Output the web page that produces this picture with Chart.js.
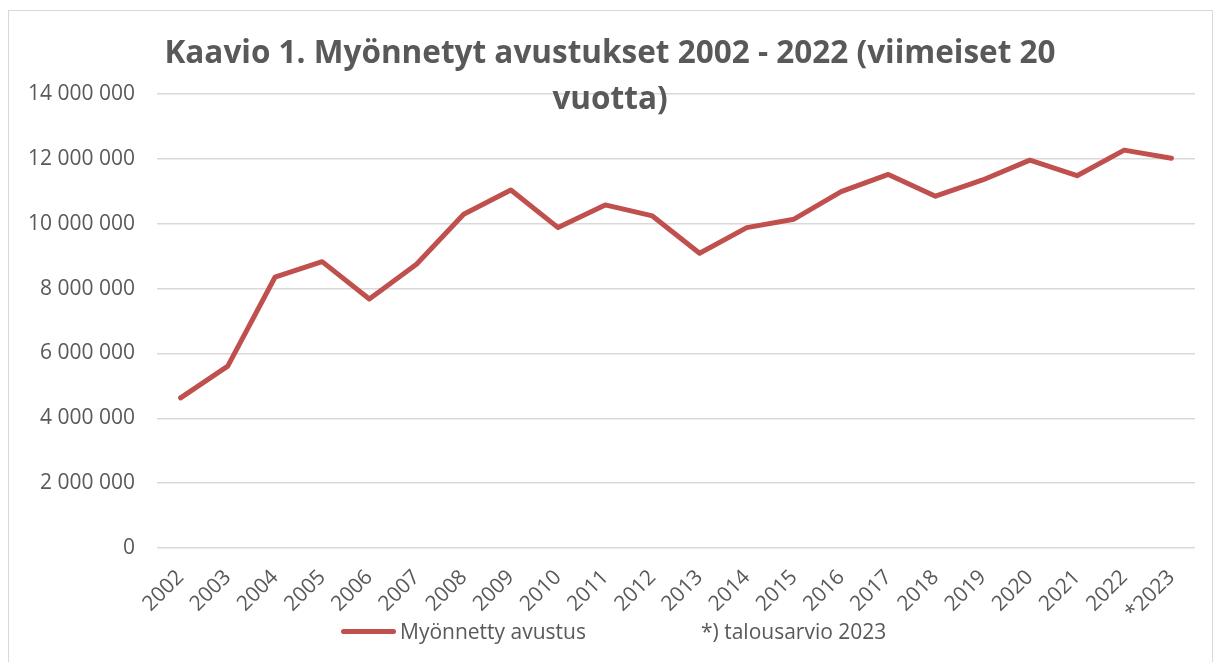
<!DOCTYPE html>
<html lang="fi">
<head>
<meta charset="utf-8">
<title>Kaavio 1. Myönnetyt avustukset</title>
<script src="https://cdn.jsdelivr.net/npm/chart.js@4.4.1/dist/chart.umd.min.js"></script>
<style>
  html, body { margin: 0; padding: 0; background: #fff; }
  #kehys { position: absolute; left: 8px; top: 10px; width: 1203px; height: 660px; border: 1px solid #d9d9d9; }
  #wrap { position: absolute; left: 0; top: 0; width: 1217px; height: 662px; }
  #selite { position: absolute; top: 617px; left: 341px; height: 28px; font: 21px 'Open Sans', 'Liberation Sans', sans-serif; color: #595959; line-height: 28px; white-space: nowrap; }
  #selite span { position: absolute; top: 0; }
  #selite .viiva { top: 12px; left: 0; width: 55px; height: 5px; border-radius: 2.5px; background: #c0504d; }
</style>
</head>
<body>
<div id="kehys"></div>
<div id="wrap"><canvas id="kaavio"></canvas></div>
<div id="selite">
  <span class="viiva"></span>
  <span id="selite1" style="left: 59px;"></span>
  <span id="selite2" style="left: 360px;"></span>
</div>
<script>
        // ============ DATA ============
        const vuodet = ['2002', '2003', '2004', '2005', '2006', '2007', '2008', '2009', '2010', '2011', '2012',
                        '2013', '2014', '2015', '2016', '2017', '2018', '2019', '2020', '2021', '2022', '*2023'];
        const avustukset = [4630000, 5610000, 8350000, 8830000, 7680000, 8750000, 10290000, 11040000, 9880000, 10580000, 10240000,
                            9090000, 9880000, 10140000, 10990000, 11520000, 10850000, 11350000, 11960000, 11480000, 12270000, 12020000];
        const yMin = 0;
        const yMax = 14000000;
        const yStep = 2000000;
        const otsikko = ['Kaavio 1. Myönnetyt avustukset 2002 - 2022 (viimeiset 20', 'vuotta)'];
        const selitteet = ['Myönnetty avustus', '*) talousarvio 2023'];

        const harmaa = '#595959';
        const punainen = '#c0504d';
        const fontti = "'Open Sans', 'Liberation Sans', sans-serif";
        const padVasen = 25;

        // tuhaterotin välilyönnillä
        function muotoile(v) {
            return String(v).replace(/\B(?=(\d{3})+(?!\d))/g, ' ');
        }

        // selite (HTML)
        document.getElementById('selite1').textContent = selitteet[0];
        document.getElementById('selite2').textContent = selitteet[1];

        const ctx = document.getElementById('kaavio').getContext('2d');
        const chart = new Chart(ctx, {
            type: 'line',
            data: {
                labels: vuodet,
                datasets: [{
                    label: selitteet[0],
                    data: avustukset,
                    borderColor: punainen,
                    backgroundColor: punainen,
                    borderWidth: 5,
                    borderCapStyle: 'round',
                    borderJoinStyle: 'round',
                    pointRadius: 0,
                    tension: 0,
                    fill: false
                }]
            },
            options: {
                responsive: true,
                maintainAspectRatio: false,
                animation: false,
                layout: {
                    padding: { left: padVasen, right: 22, top: 0, bottom: 0 }
                },
                plugins: {
                    title: {
                        display: true,
                        text: otsikko,
                        color: harmaa,
                        font: { family: fontti, size: 31.5, weight: 'bold', lineHeight: '46px' },
                        padding: { top: 31, bottom: -29 }
                    },
                    legend: { display: false },
                    tooltip: { enabled: false }
                },
                scales: {
                    x: {
                        offset: true,
                        grid: { display: false },
                        border: { display: false },
                        ticks: {
                            color: harmaa,
                            font: { family: fontti, size: 21 },
                            maxRotation: 45,
                            minRotation: 45,
                            autoSkip: false,
                            padding: 9
                        },
                        afterFit: function(scale) { scale.height = 114; }
                    },
                    y: {
                        min: yMin,
                        max: yMax,
                        border: { display: false },
                        grid: { color: '#d9d9d9', lineWidth: 1.5, drawTicks: false },
                        ticks: {
                            stepSize: yStep,
                            color: harmaa,
                            font: { family: fontti, size: 21 },
                            padding: 22,
                            callback: function(v) { return muotoile(v); }
                        },
                        afterFit: function(scale) { scale.width = 157 - padVasen; }
                    }
                }
            }
        });
</script>
</body>
</html>
